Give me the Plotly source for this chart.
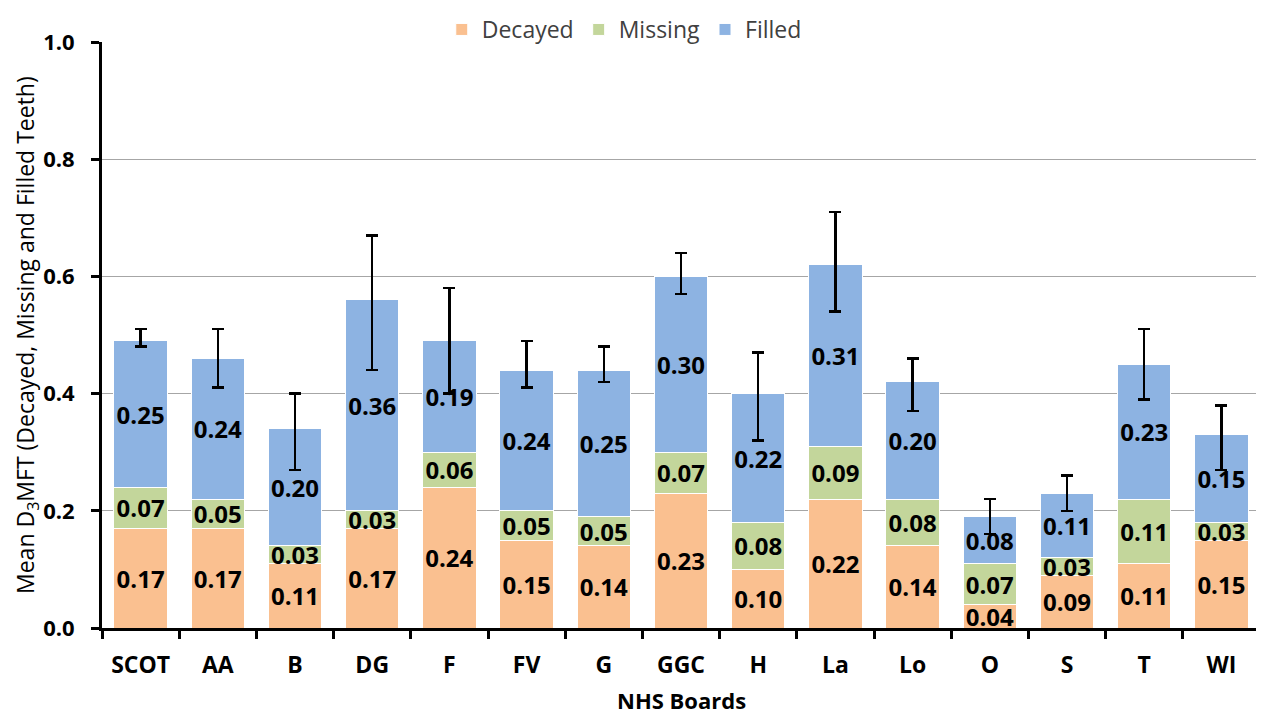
import plotly.graph_objects as go

boards = ["SCOT", "AA", "B", "DG", "F", "FV", "G", "GGC", "H", "La", "Lo", "O", "S", "T", "WI"]
decayed = [0.17, 0.17, 0.11, 0.17, 0.24, 0.15, 0.14, 0.23, 0.10, 0.22, 0.14, 0.04, 0.09, 0.11, 0.15]
missing = [0.07, 0.05, 0.03, 0.03, 0.06, 0.05, 0.05, 0.07, 0.08, 0.09, 0.08, 0.07, 0.03, 0.11, 0.03]
filled = [0.25, 0.24, 0.20, 0.36, 0.19, 0.24, 0.25, 0.30, 0.22, 0.31, 0.20, 0.08, 0.11, 0.23, 0.15]
ci_lower = [0.48, 0.41, 0.27, 0.44, 0.40, 0.41, 0.42, 0.57, 0.32, 0.54, 0.37, 0.16, 0.20, 0.39, 0.27]
ci_upper = [0.51, 0.51, 0.40, 0.67, 0.58, 0.49, 0.48, 0.64, 0.47, 0.71, 0.46, 0.22, 0.26, 0.51, 0.38]

totals = [d + m + f for d, m, f in zip(decayed, missing, filled)]
err_plus = [u - t for u, t in zip(ci_upper, totals)]
err_minus = [t - l for l, t in zip(ci_lower, totals)]

FONT = "Open Sans"
label_font = dict(family=FONT, size=24, color="black")

def bar(name, vals, color, **kw):
    return go.Bar(
        x=boards, y=vals, name=name,
        marker=dict(color=color, line=dict(color="white", width=1)),
        text=[f"{v:.2f}" for v in vals],
        texttemplate="<b>%{text}</b>",
        textposition="inside", insidetextanchor="middle",
        textangle=0, constraintext="none",
        textfont=label_font,
        hoverinfo="skip",
        **kw,
    )

fig = go.Figure()
fig.add_trace(bar("Decayed", decayed, "#FAC090"))
fig.add_trace(bar("Missing", missing, "#C3D69B"))
fig.add_trace(bar("Filled", filled, "#8DB3E2",
                  error_y=dict(type="data", symmetric=False, array=err_plus,
                               arrayminus=err_minus, color="black",
                               thickness=2.5, width=6)))

fig.update_layout(
    barmode="stack",
    bargap=0.31,
    width=1264, height=713,
    margin=dict(l=94, r=12, t=34, b=93, autoexpand=False),
    paper_bgcolor="white", plot_bgcolor="white",
    uniformtext=dict(minsize=24, mode="show"),
    font=dict(family=FONT, color="black"),
    legend=dict(orientation="h", traceorder="normal",
                x=0.451, xanchor="center", yref="container", y=1.0, yanchor="top",
                font=dict(family=FONT, size=23, color="#404040"),
                itemwidth=30, tracegroupgap=0),
    xaxis=dict(
        automargin=False,
        showline=True, linecolor="black", linewidth=3,
        ticks="outside", tickson="boundaries", ticklen=8, tickwidth=2.5, tickcolor="black",
        tickfont=dict(family=FONT, size=23),
        ticklabelstandoff=14,
        tickvals=boards, ticktext=[f"<b>{b}</b>" for b in boards],
        range=[-0.5, len(boards) - 0.5],
    ),
    yaxis=dict(
        automargin=False,
        range=[0, 1.0], dtick=0.2, tickformat=".1f",
        showline=True, linecolor="black", linewidth=3,
        ticks="outside", ticklen=8, tickwidth=2.5, tickcolor="black",
        tickfont=dict(family=FONT, size=22, weight="bold"),
        ticklabelstandoff=12,
        showgrid=True, gridcolor="#A6A6A6", gridwidth=1,
        zeroline=False,
    ),
    annotations=[
        dict(text="<b>NHS Boards</b>", xref="paper", yref="paper",
             x=0.5, y=-(692 - 620) / 586, xanchor="center", yanchor="middle",
             showarrow=False, font=dict(family=FONT, size=22, color="black")),
        dict(text="Mean D<sub>3</sub>MFT (Decayed, Missing and Filled Teeth)",
             xref="paper", yref="paper",
             x=-(94 - 18) / 1158, y=(620 - 327) / 586, xanchor="center", yanchor="middle",
             textangle=-90, showarrow=False,
             font=dict(family=FONT, size=23, color="black")),
    ],
)

fig.write_html("out.html")
